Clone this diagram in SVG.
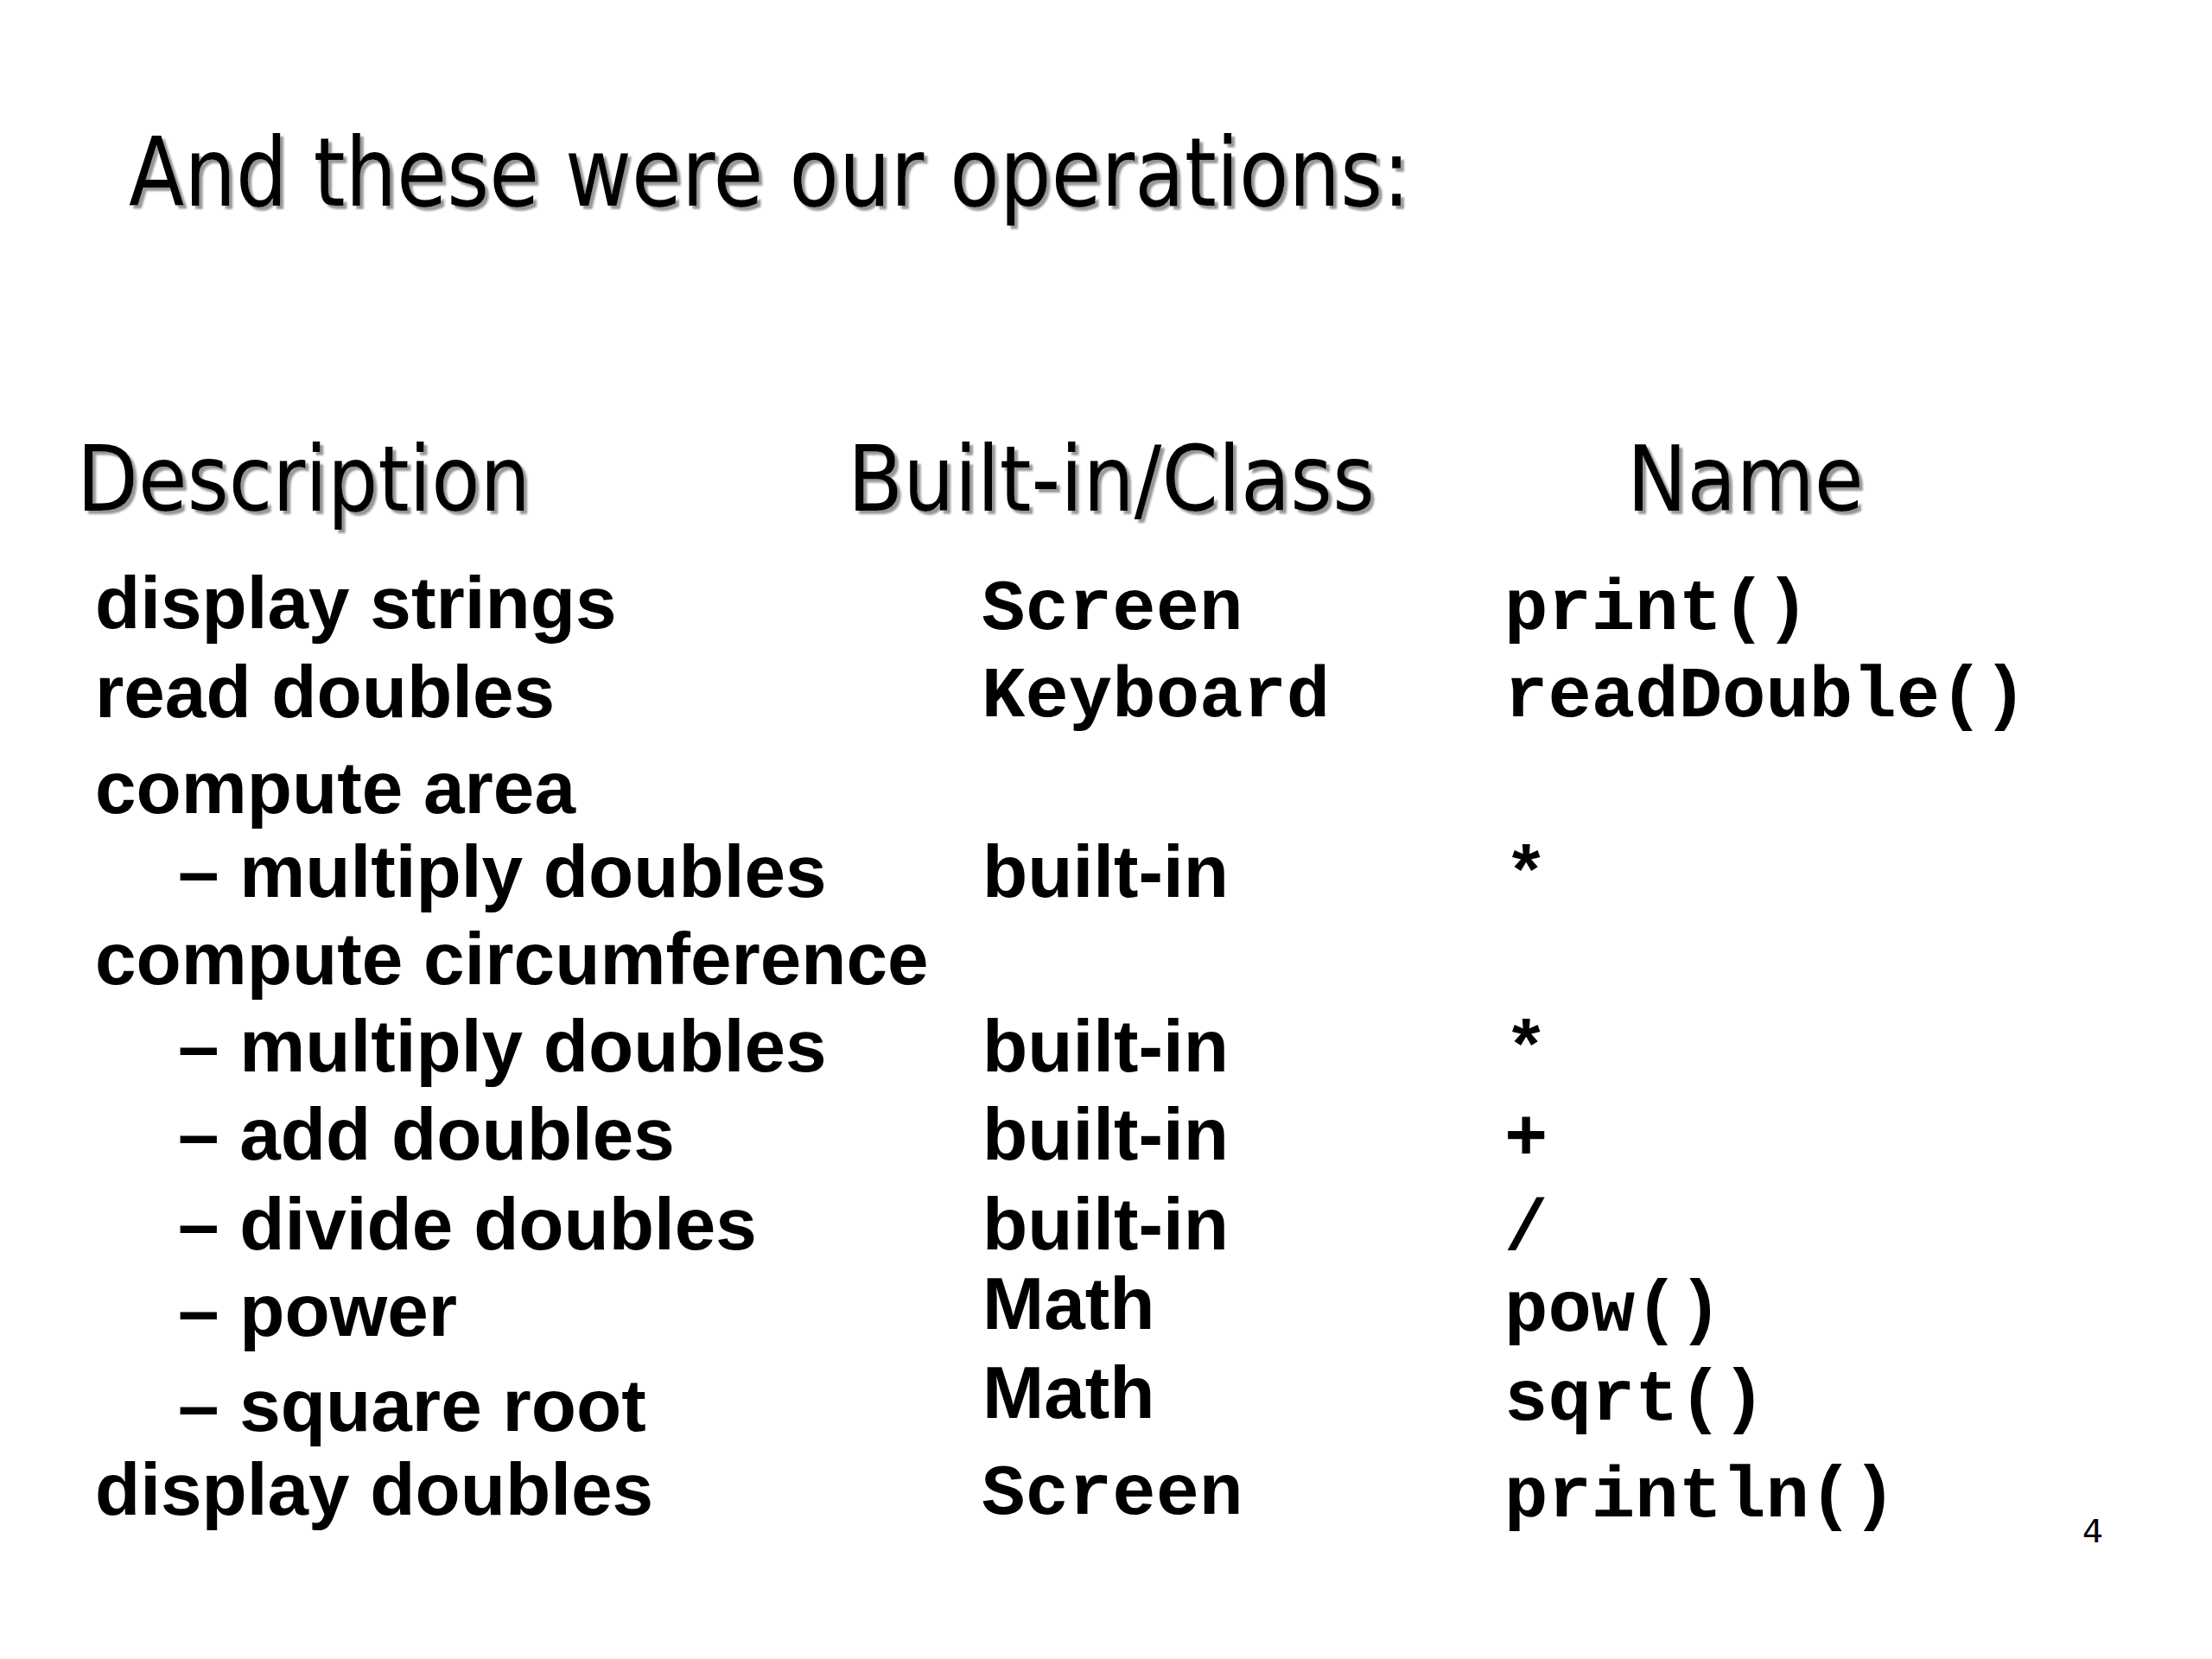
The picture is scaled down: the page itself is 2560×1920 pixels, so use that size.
<svg xmlns="http://www.w3.org/2000/svg" width="2560" height="1920" viewBox="0 0 2560 1920">
<defs>
<filter id="shadow" x="-5%" y="-20%" width="110%" height="150%">
<feDropShadow dx="4" dy="4" stdDeviation="1.2" flood-color="#8c8c8c" flood-opacity="0.9"/>
</filter>
<style>
.title{font-family:"DejaVu Sans","Liberation Sans",sans-serif;font-size:110px;fill:#000;filter:url(#shadow)}
.head{font-family:"DejaVu Sans","Liberation Sans",sans-serif;font-size:106px;fill:#000;filter:url(#shadow)}
.desc{font-family:"Liberation Sans",Arial,sans-serif;font-weight:bold;font-size:85.5px;fill:#000}
.mono{font-family:"Courier New","Liberation Mono",monospace;font-weight:bold;font-size:84px;fill:#000}
.pg{font-family:"DejaVu Sans","Liberation Sans",sans-serif;font-size:38px;fill:#000}
</style>
</defs>
<rect width="2560" height="1920" fill="#fff"/>

<g id="title">
<text class="title" x="149" y="238" textLength="1483" lengthAdjust="spacingAndGlyphs">And these were our operations:</text>
</g>

<g id="headers">
<text class="head" x="89" y="591" textLength="525" lengthAdjust="spacingAndGlyphs">Description</text>
<text class="head" x="981" y="591" textLength="610" lengthAdjust="spacingAndGlyphs">Built-in/Class</text>
<text class="head" x="1883" y="591" textLength="274" lengthAdjust="spacingAndGlyphs">Name</text>
</g>

<g id="col-description">
<text class="desc" x="110" y="727">display strings</text>
<text class="desc" x="110" y="830">read doubles</text>
<text class="desc" x="110" y="941">compute area</text>
<text class="desc" x="206" y="1038">– multiply doubles</text>
<text class="desc" x="110" y="1139">compute circumference</text>
<text class="desc" x="206" y="1240">– multiply doubles</text>
<text class="desc" x="206" y="1342">– add doubles</text>
<text class="desc" x="206" y="1446">– divide doubles</text>
<text class="desc" x="206" y="1546">– power</text>
<text class="desc" x="206" y="1656">– square root</text>
<text class="desc" x="110" y="1753">display doubles</text>
</g>

<g id="col-class">
<text class="mono" x="1136" y="728">Screen</text>
<text class="mono" x="1136" y="829">Keyboard</text>
<text class="desc" x="1137" y="1038">built-in</text>
<text class="desc" x="1137" y="1240">built-in</text>
<text class="desc" x="1137" y="1342">built-in</text>
<text class="desc" x="1137" y="1446">built-in</text>
<text class="desc" x="1137" y="1538">Math</text>
<text class="desc" x="1137" y="1641">Math</text>
<text class="mono" x="1136" y="1752">Screen</text>
</g>

<g id="col-name">
<text class="mono" x="1741" y="728">print()</text>
<text class="mono" x="1741" y="829">readDouble()</text>
<text class="mono" x="1741" y="1038">*</text>
<text class="mono" x="1741" y="1240">*</text>
<text class="mono" x="1741" y="1342">+</text>
<text class="mono" x="1741" y="1446">/</text>
<text class="mono" x="1741" y="1540">pow()</text>
<text class="mono" x="1741" y="1643">sqrt()</text>
<text class="mono" x="1741" y="1755">println()</text>
</g>

<g id="page-number">
<text class="pg" x="2410" y="1785">4</text>
</g>
</svg>
